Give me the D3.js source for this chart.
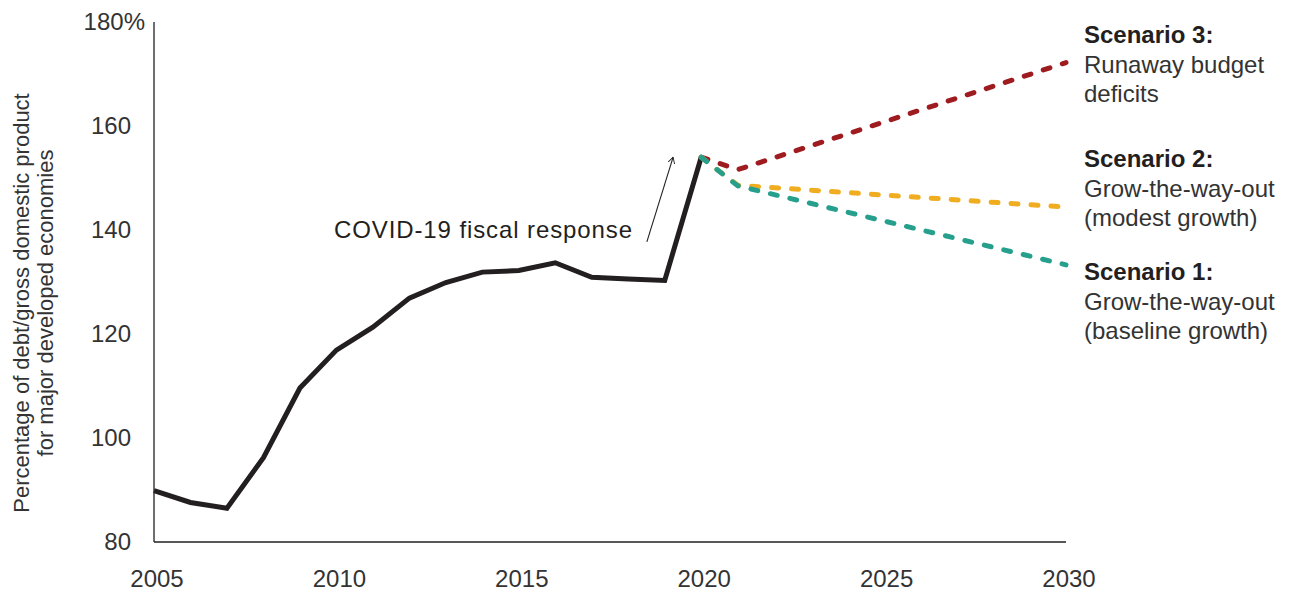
<!DOCTYPE html>
<html>
<head>
<meta charset="utf-8">
<script src="https://cdn.jsdelivr.net/npm/d3@7"></script>
<style>
  html, body { margin: 0; padding: 0; background: #fff; }
  svg { display: block; font-family: "Liberation Sans", Arial, sans-serif; }
</style>
</head>
<body>
<svg id="chart" width="1297" height="592"></svg>
<script>
// ---- data ----
const histYears  = [2005, 2006, 2007, 2008, 2009, 2010, 2011, 2012, 2013, 2014, 2015, 2016, 2017, 2018, 2019, 2020];
const histValues = [89.9, 87.6, 86.5, 96.2, 109.6, 116.9, 121.3, 126.9, 129.9, 131.9, 132.2, 133.7, 130.9, 130.6, 130.3, 154.0];

const scenarioYears = [2020, 2021, 2030];
const scenario3 = [154.0, 151.6, 172.2];
const scenario2 = [154.0, 148.6, 144.4];
const scenario1 = [154.0, 148.5, 133.3];

const xTicks = [2005, 2010, 2015, 2020, 2025, 2030];
const yTicks = [80, 100, 120, 140, 160, 180];

const scenarioLabels = [
  { title: "Scenario 3:", lines: ["Runaway budget", "deficits"] },
  { title: "Scenario 2:", lines: ["Grow-the-way-out", "(modest growth)"] },
  { title: "Scenario 1:", lines: ["Grow-the-way-out", "(baseline growth)"] }
];

// ---- layout ----
const svg = d3.select("#chart");
const x = d3.scaleLinear().domain([2005, 2030]).range([154, 1066]);
const y = d3.scaleLinear().domain([80, 180]).range([542, 22]);

const ink = "#231f20";
const textCol = "#333333";

// axes lines
svg.append("line").attr("x1", x(2005)).attr("x2", x(2005)).attr("y1", y(180)).attr("y2", y(80))
  .attr("stroke", ink).attr("stroke-width", 1.3);
svg.append("line").attr("x1", x(2005)).attr("x2", x(2030)).attr("y1", y(80)).attr("y2", y(80))
  .attr("stroke", ink).attr("stroke-width", 1.3);

// y tick labels
svg.append("g").selectAll("text").data(yTicks).join("text")
  .attr("x", d => d === 180 ? 145 : 131)
  .attr("y", d => y(d))
  .attr("dy", "0.35em")
  .attr("text-anchor", "end")
  .attr("font-size", 24)
  .attr("fill", textCol)
  .text(d => d === 180 ? d + "%" : d);

// x tick labels
svg.append("g").selectAll("text").data(xTicks).join("text")
  .attr("x", d => x(d) + 3)
  .attr("y", 587)
  .attr("text-anchor", "middle")
  .attr("font-size", 24)
  .attr("fill", textCol)
  .text(d => d);

// y axis title
const yTitle = svg.append("text")
  .attr("transform", "translate(29,303) rotate(-90)")
  .attr("text-anchor", "middle")
  .attr("font-size", 22)
  .attr("fill", textCol);
yTitle.append("tspan").attr("x", 0).attr("dy", 0).text("Percentage of debt/gross domestic product");
yTitle.append("tspan").attr("x", 0).attr("dy", 24).text("for major developed economies");

// lines
const line = d3.line().x(d => x(d[0])).y(d => y(d[1]));

svg.append("path")
  .datum(histYears.map((yr, i) => [yr, histValues[i]]))
  .attr("d", line)
  .attr("fill", "none")
  .attr("stroke", ink)
  .attr("stroke-width", 5)
  .attr("stroke-linejoin", "miter");

const scenarios = [
  { values: scenario3, color: "#9e1b20" },
  { values: scenario2, color: "#f0ad1f" },
  { values: scenario1, color: "#26a08d" }
];
scenarios.forEach(s => {
  svg.append("path")
    .datum(scenarioYears.map((yr, i) => [yr, s.values[i]]))
    .attr("d", line)
    .attr("fill", "none")
    .attr("stroke", s.color)
    .attr("stroke-width", 5)
    .attr("stroke-linecap", "round")
    .attr("stroke-dasharray", "7 13");
});

// annotation
svg.append("text")
  .attr("x", x(2018.13))
  .attr("y", y(138.5))
  .attr("text-anchor", "end")
  .attr("font-size", 24)
  .attr("letter-spacing", 0.9)
  .attr("fill", ink)
  .text("COVID-19 fiscal response");

svg.append("defs").append("marker")
  .attr("id", "arrow")
  .attr("viewBox", "0 0 10 10")
  .attr("refX", 9).attr("refY", 5)
  .attr("markerWidth", 7).attr("markerHeight", 7)
  .attr("markerUnits", "userSpaceOnUse")
  .attr("orient", "auto")
  .append("path")
  .attr("d", "M0,0 L9,5 L0,10")
  .attr("fill", "none")
  .attr("stroke", ink)
  .attr("stroke-width", 1.3);

svg.append("line")
  .attr("x1", x(2018.51)).attr("y1", y(137.7))
  .attr("x2", x(2019.23)).attr("y2", y(154.0))
  .attr("stroke", ink)
  .attr("stroke-width", 1.1)
  .attr("marker-end", "url(#arrow)");

// scenario labels
const labelTops = [43, 167, 280];
scenarioLabels.forEach((lab, i) => {
  const t = svg.append("text").attr("font-size", 24).attr("fill", textCol);
  t.append("tspan").attr("x", 1084).attr("y", labelTops[i])
    .attr("font-weight", "bold").attr("fill", ink).text(lab.title);
  lab.lines.forEach((ln, j) => {
    t.append("tspan").attr("x", 1084).attr("y", labelTops[i] + 29.5 * (j + 1)).text(ln);
  });
});
</script>
</body>
</html>
